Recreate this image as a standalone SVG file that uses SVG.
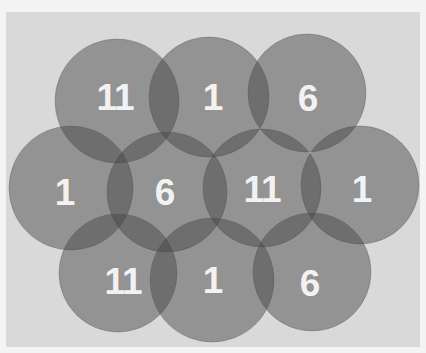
<svg xmlns="http://www.w3.org/2000/svg" width="426" height="353" viewBox="0 0 426 353">
  <style>
    .cell { fill: #444444; fill-opacity: 0.47; stroke: #555555; stroke-opacity: 0.35; stroke-width: 1; }
    .lbl { font-family: "Liberation Sans", Arial, sans-serif; font-weight: bold; font-size: 37px; fill: #f2f2f2; text-anchor: middle; }
    .tight { letter-spacing: -1px; }
  </style>
  <rect x="0" y="0" width="426" height="353" fill="#f4f4f4"/>
  <rect x="6" y="12" width="414" height="335" fill="#d9d9d9"/>
  <g id="connectors"/>
  <g id="cell-top-left"><circle class="cell" cx="117" cy="101" r="62"/><text class="lbl tight" x="115" y="110">11</text></g>
  <g id="cell-top-mid"><circle class="cell" cx="209" cy="97" r="60"/><text class="lbl" x="213" y="110">1</text></g>
  <g id="cell-top-right"><circle class="cell" cx="307" cy="93" r="59"/><text class="lbl" x="308" y="111">6</text></g>
  <g id="cell-mid-left"><circle class="cell" cx="71" cy="188" r="62"/><text class="lbl" x="65" y="205">1</text></g>
  <g id="cell-mid-center-left"><circle class="cell" cx="167" cy="192" r="60"/><text class="lbl" x="165" y="205">6</text></g>
  <g id="cell-mid-center-right"><circle class="cell" cx="262" cy="188" r="59"/><text class="lbl tight" x="262" y="202">11</text></g>
  <g id="cell-mid-right"><circle class="cell" cx="360" cy="185" r="59"/><text class="lbl" x="362" y="202">1</text></g>
  <g id="cell-bottom-left"><circle class="cell" cx="118" cy="273" r="59"/><text class="lbl tight" x="123" y="294">11</text></g>
  <g id="cell-bottom-mid"><circle class="cell" cx="212" cy="280" r="62"/><text class="lbl" x="213" y="293">1</text></g>
  <g id="cell-bottom-right"><circle class="cell" cx="312" cy="272" r="59"/><text class="lbl" x="310" y="296">6</text></g>
</svg>
